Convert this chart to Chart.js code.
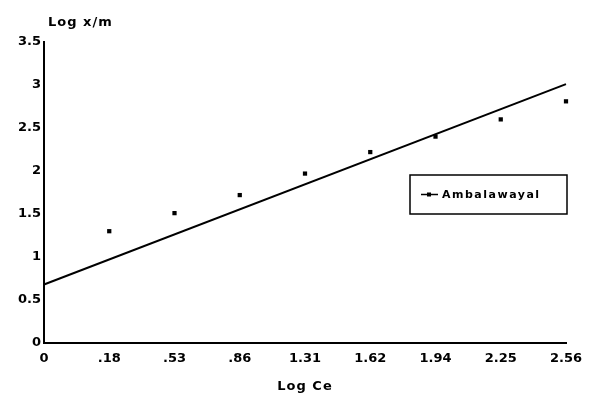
<!DOCTYPE html>
<html>
<head>
<meta charset="utf-8">
<script src="https://cdn.jsdelivr.net/npm/chart.js@4/dist/chart.umd.min.js"></script>
<style>
  html, body { margin: 0; padding: 0; background: #fff; }
  #wrap { width: 594px; height: 407px; }
</style>
</head>
<body>
<div id="wrap"><canvas id="isotherm"></canvas></div>
<script>
// Freundlich isotherm data (log Ce vs log x/m)
const logCe = ['0', '.18', '.53', '.86', '1.31', '1.62', '1.94', '2.25', '2.56'];
const logXm = [null, 1.30, 1.51, 1.72, 1.97, 2.22, 2.40, 2.60, 2.81];
const fitLine = [0.68, null, null, null, null, null, null, null, 3.01];
const seriesName = 'Ambalawayal';
const yMin = 0, yMax = 3.5, yStep = 0.5;

const FONT = 'DejaVu Sans';

// axis titles + boxed legend drawn on top
const decorations = {
  id: 'decorations',
  afterDraw(chart) {
    const { ctx, chartArea } = chart;
    ctx.save();
    ctx.fillStyle = '#000';
    ctx.letterSpacing = '1px';

    // y title above the axis
    ctx.font = 'bold 13px "' + FONT + '"';
    ctx.textAlign = 'left';
    ctx.textBaseline = 'middle';
    ctx.fillText('Log x/m', chartArea.left + 4, 23);

    // x title under the tick labels
    ctx.textAlign = 'center';
    ctx.fillText('Log Ce', (chartArea.left + chartArea.right) / 2, 387);

    // legend box
    const bx = chartArea.right - 156, by = chartArea.top + 133, bw = 157, bh = 39;
    ctx.strokeStyle = '#000';
    ctx.lineWidth = 1.5;
    ctx.strokeRect(bx, by, bw, bh);
    const ly = by + bh / 2;
    ctx.beginPath();
    ctx.moveTo(bx + 11, ly);
    ctx.lineTo(bx + 28, ly);
    ctx.stroke();
    ctx.fillRect(bx + 17, ly - 2, 4, 4);
    ctx.font = 'bold 11px "' + FONT + '"';
    ctx.letterSpacing = '1.5px';
    ctx.textAlign = 'left';
    ctx.fillText(chart.data.datasets[0].label, bx + 32, ly + 1);
    ctx.restore();
  }
};

new Chart(document.getElementById('isotherm'), {
  type: 'line',
  data: {
    labels: logCe,
    datasets: [
      {
        label: seriesName,
        data: logXm,
        showLine: false,
        pointStyle: 'rect',
        pointRadius: 3,
        pointBorderWidth: 0,
        pointBackgroundColor: '#000',
        borderColor: '#000'
      },
      {
        label: 'fit',
        data: fitLine,
        spanGaps: true,
        pointRadius: 0,
        borderColor: '#000',
        borderWidth: 2,
        tension: 0
      }
    ]
  },
  options: {
    responsive: true,
    maintainAspectRatio: false,
    animation: false,
    layout: { padding: { top: 42, right: 28, left: 0, bottom: 0 } },
    plugins: {
      legend: { display: false },
      tooltip: { enabled: false }
    },
    scales: {
      x: {
        offset: false,
        grid: { display: false, drawTicks: false },
        border: { display: true, color: '#000', width: 2 },
        ticks: {
          color: '#000',
          padding: 8,
          maxRotation: 0,
          autoSkip: false,
          font: { family: FONT, size: 13, weight: 'bold' }
        },
        afterFit(scale) { scale.height = 64; }
      },
      y: {
        min: yMin,
        max: yMax,
        grid: { display: false, drawTicks: false },
        border: { display: true, color: '#000', width: 2 },
        ticks: {
          stepSize: yStep,
          color: '#000',
          padding: 3,
          font: { family: FONT, size: 13, weight: 'bold' },
          callback: (v) => String(+v)
        },
        afterFit(scale) { scale.width = 44; }
      }
    }
  },
  plugins: [decorations]
});
</script>
</body>
</html>
